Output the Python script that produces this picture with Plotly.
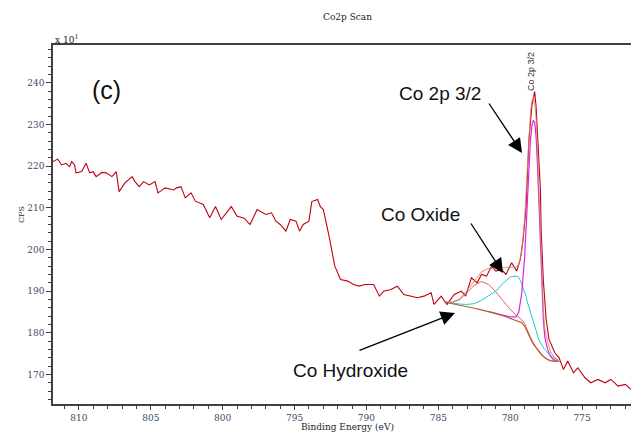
import plotly.graph_objects as go
import numpy as np

# ---------------- data (CPS in units of x10) ----------------
spec_ev = [811.8, 811.47, 811.2, 810.9, 810.65, 810.5, 810.3, 810.2, 809.8, 809.5, 809.25, 809.0,
           808.8, 808.4, 808.1, 807.7, 807.4, 807.2, 806.8, 806.3, 806.1, 805.8, 805.5, 805.1,
           804.7, 804.5, 804.0, 803.4, 803.2, 802.9, 802.6, 802.2, 801.9, 801.35, 800.9, 800.5,
           800.1, 799.7, 799.4, 799.0, 798.5, 798.1, 797.6, 797.0, 796.6, 796.3, 796.0, 795.6,
           795.3, 794.9, 794.65, 794.4, 794.0, 793.8, 793.4, 793.2, 793.0, 792.6, 792.4, 792.2,
           791.8, 791.3, 790.9, 790.5, 790.1, 789.5, 789.1, 788.8, 788.3, 787.85, 787.4, 786.9,
           786.45, 786.0, 785.5, 785.3, 784.8, 784.4, 783.9, 783.4, 783.1, 782.7, 782.3, 782.0,
           781.65, 781.3, 781.0, 780.6, 780.3, 779.9, 779.55, 779.3, 779.1, 778.9, 778.8, 778.7,
           778.5, 778.3, 778.2, 778.1, 777.9, 777.85, 777.7, 777.5, 777.3, 776.9, 776.6, 776.3,
           776.0, 775.6, 775.3, 774.8, 774.4, 773.9, 773.4, 773.0, 772.5, 772.0, 771.6]
spec_cps = [221.1, 221.7, 220.3, 220.7, 219.9, 221.1, 220.3, 218.4, 218.7, 220.7, 218.4, 218.7,
            217.5, 218.5, 218.4, 217.5, 218.7, 213.9, 216.0, 217.5, 216.3, 215.1, 216.3, 215.5,
            216.3, 213.6, 214.8, 214.3, 214.8, 215.1, 212.4, 213.6, 211.6, 210.8, 207.6, 210.3,
            207.2, 209.1, 210.3, 208.0, 207.5, 206.0, 209.6, 208.4, 208.8, 206.8, 206.0, 204.4,
            207.2, 206.8, 204.4, 206.0, 206.8, 211.5, 212.0, 210.3, 209.6, 203.2, 199.2, 196.0,
            192.8, 192.4, 191.6, 191.2, 191.6, 191.6, 188.8, 190.0, 190.4, 191.2, 189.2, 188.8,
            188.4, 188.8, 189.6, 186.8, 188.8, 186.8, 189.2, 190.0, 188.8, 193.2, 192.0, 194.0,
            193.6, 196.0, 194.8, 195.2, 194.0, 196.8, 194.8, 197.6, 202.4, 210.3, 218.4, 226.3,
            234.3, 237.9, 234.3, 226.3, 214.3, 204.8, 192.8, 183.2, 178.4, 175.2, 174.0, 171.2,
            173.2, 170.4, 171.6, 169.2, 168.0, 168.8, 168.0, 168.8, 167.2, 167.6, 166.4]

fit_ev = [784.6, 784.0, 783.5, 783.0, 782.5, 782.0, 781.5, 781.0, 780.5, 780.0, 779.6, 779.4,
          779.2, 779.0, 778.9, 778.8, 778.7, 778.6, 778.5, 778.4, 778.3, 778.2, 778.1, 778.0,
          777.9, 777.8, 777.7, 777.6, 777.4, 777.2, 777.0, 776.8, 776.6]
background = [187.4, 187.0, 186.7, 186.3, 185.9, 185.5, 185.1, 184.6, 184.1, 183.5, 183.0, 182.8,
              182.4, 181.6, 180.8, 180.0, 179.3, 178.6, 177.9, 177.3, 176.8, 176.3, 175.9, 175.5,
              175.0, 174.6, 174.3, 174.0, 173.5, 173.3, 173.2, 173.1, 173.1]
co_hydroxide = [187.4, 187.3, 188.0, 189.6, 191.4, 192.3, 191.6, 189.8, 187.6, 185.6, 184.3, 183.7,
                183.1, 182.2, 181.3, 180.5, 179.7, 179.0, 178.3, 177.6, 177.1, 176.5, 176.1, 175.6,
                175.1, 174.7, 174.4, 174.1, 173.6, 173.3, 173.2, 173.1, 173.1]
co_oxide = [187.4, 187.1, 186.9, 186.8, 187.0, 187.8, 189.0, 190.0, 191.9, 193.4, 193.6, 193.3,
            191.8, 190.0, 188.7, 187.3, 186.1, 184.9, 183.7, 182.6, 181.4, 180.3, 179.3, 178.3,
            177.6, 177.0, 176.5, 176.0, 175.2, 174.5, 174.0, 173.6, 173.3]
co_2p32 = [None, None, None, None, None, None, 185.1, 184.7, 184.3, 183.8, 183.8, 185.0,
           189.5, 198.0, 205.0, 213.0, 220.5, 226.0, 229.5, 231.0, 230.5, 227.0, 220.0, 210.0,
           199.0, 190.0, 183.5, 179.0, 176.0, 174.3, 173.6, 173.2, 173.1]

xticks = [810, 805, 800, 795, 790, 785, 780, 775]
yticks = [170, 180, 190, 200, 210, 220, 230, 240]

# envelope = background + sum of component areas above background
bg_arr = np.array(background)
main_arr = np.array([b if v is None else v for v, b in zip(co_2p32, background)])
envelope = bg_arr + (np.array(co_hydroxide) - bg_arr) + (np.array(co_oxide) - bg_arr) + (main_arr - bg_arr)

# ---------------- figure ----------------
W, H = 631, 434
L, R, T, B = 53, 0, 45, 30
pw, ph = W - L - R, H - T - B

def px(x):
    return (x - L) / pw

def py(y):
    return (H - B - y) / ph

fig = go.Figure()
fig.add_trace(go.Scatter(x=spec_ev, y=spec_cps, mode="lines",
                         line=dict(color="#c00010", width=1.1), hoverinfo="skip"))
fig.add_trace(go.Scatter(x=fit_ev, y=co_hydroxide, mode="lines",
                         line=dict(color="#ee5a5a", width=1.0), hoverinfo="skip"))
fig.add_trace(go.Scatter(x=fit_ev, y=co_oxide, mode="lines",
                         line=dict(color="#22c8d8", width=1.0), hoverinfo="skip"))
fig.add_trace(go.Scatter(x=fit_ev, y=co_2p32, mode="lines",
                         line=dict(color="#e020e0", width=1.2), hoverinfo="skip"))
fig.add_trace(go.Scatter(x=fit_ev, y=background, mode="lines",
                         line=dict(color="#a8602c", width=1.1), hoverinfo="skip"))
fig.add_trace(go.Scatter(x=fit_ev, y=list(envelope), mode="lines", opacity=0.75,
                         line=dict(color="#c88a64", width=1.1), hoverinfo="skip"))

tickfont = dict(family="DejaVu Serif", size=9, color="#3c4a66")
fig.update_xaxes(range=[811.8, 771.6], tickvals=xticks, ticktext=[str(t) for t in xticks],
                 ticks="outside", ticklen=4, tickwidth=1, tickcolor="#404040",
                 minor=dict(dtick=1, ticks="outside", ticklen=3, tickcolor="#404040"),
                 showline=True, linecolor="#404040", linewidth=1.5, mirror=True,
                 showgrid=False, zeroline=False, tickfont=tickfont)
fig.update_yaxes(range=[162.9, 249.1], tickvals=yticks, ticktext=[str(t) for t in yticks],
                 ticks="outside", ticklen=5, tickwidth=1, tickcolor="#404040",
                 minor=dict(dtick=2, ticks="outside", ticklen=3, tickcolor="#404040"),
                 showline=True, linecolor="#404040", linewidth=1.5,
                 showgrid=False, zeroline=False, tickfont=tickfont)

serif = "DejaVu Serif"
sans = "Liberation Sans"
ann = [
    dict(x=px(347), y=py(17), text="Co2p Scan", font=dict(family=serif, size=9, color="#222")),
    dict(x=px(66), y=py(39), text="x 10<sup>1</sup>", font=dict(family=serif, size=9, color="#222")),
    dict(x=px(22), y=py(215), text="CPS", textangle=-90, font=dict(family=serif, size=8, color="#222")),
    dict(x=px(106), y=py(90), text="(c)", font=dict(family=sans, size=25, color="#111")),
    dict(x=px(440), y=py(93), text="Co 2p 3/2", font=dict(family=sans, size=19, color="#111")),
    dict(x=px(420), y=py(214), text="Co Oxide", font=dict(family=sans, size=19, color="#111")),
    dict(x=px(350), y=py(370), text="Co Hydroxide", font=dict(family=sans, size=19, color="#111")),
    dict(x=px(531), y=py(72), text="Co 2p 3/2", textangle=-90, font=dict(family=sans, size=9, color="#333")),
]
for a in ann:
    a.update(xref="paper", yref="paper", showarrow=False, xanchor="center", yanchor="middle")
    fig.add_annotation(**a)
fig.add_annotation(x=px(347), y=py(434), xref="paper", yref="paper", showarrow=False,
                   xanchor="center", yanchor="bottom", text="Binding Energy (eV)",
                   font=dict(family=serif, size=9, color="#222"))

arrows = [((488, 102), (522, 153)), ((470, 222), (503, 273)), ((358, 351), (455, 313))]
for (tx, ty), (hx, hy) in arrows:
    fig.add_annotation(x=px(hx), y=py(hy), xref="paper", yref="paper", text="",
                       showarrow=True, ax=tx - hx, ay=ty - hy, arrowhead=2, arrowsize=2.2,
                       arrowwidth=1.3, arrowcolor="#000")

fig.update_layout(width=W, height=H, margin=dict(l=L, r=R, t=T, b=B),
                  paper_bgcolor="white", plot_bgcolor="white", showlegend=False)

fig.write_html("out.html")
